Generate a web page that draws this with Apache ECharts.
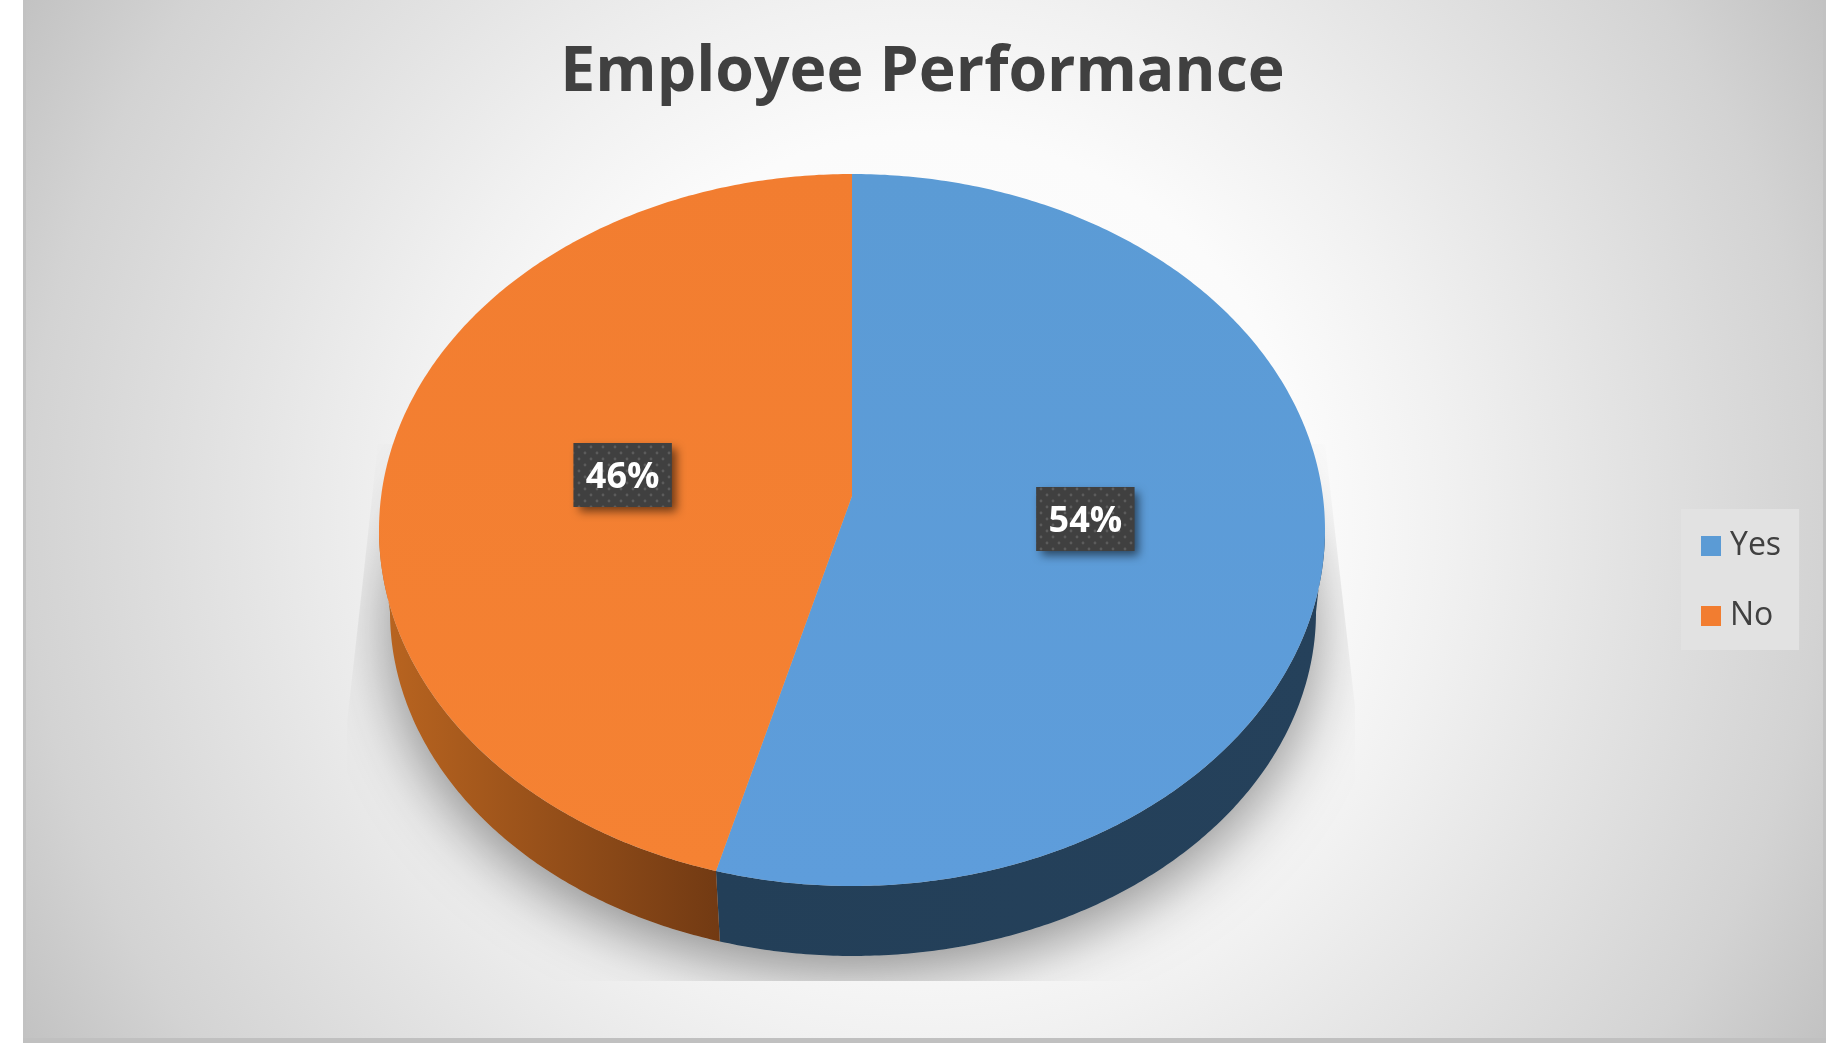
<!DOCTYPE html>
<html>
<head>
<meta charset="utf-8">
<style>html,body{margin:0;padding:0;background:#fff}#c{width:1832px;height:1043px}</style>
<script src="https://cdn.jsdelivr.net/npm/echarts@6/dist/echarts.min.js"></script>
</head>
<body>
<div id="c"></div>
<script>
const titleText = 'Employee Performance';
const categories = ['Yes', 'No'];
const values = [54, 46];

const topColors = [['#5B9BD5', '#5E9DDB'], ['#F27D30', '#F58233']];
const wallColors = [['#233F58', '#25415B'], ['#BA6520', '#723A13']];

const FONT = '"Open Sans", sans-serif';
const geo = { cx: 852, cy: 530, rx: 473, ry: 356, lowCx: 853, lowCy: 612, lowRx: 463, lowRy: 344, apexY: 496, skew: 0.86, labelR: 0.493, labelDx: 2, labelDy: 1 };
const total = values.reduce((a, b) => a + b, 0);

// value angle (clockwise from 12 o'clock) -> parameter on the tilted rim ellipse
function rimParam(deg) {
  const h = deg * Math.PI / 360;
  return 2 * Math.atan2(geo.skew * Math.sin(h), Math.cos(h));
}
function arc(t0, t1, low) {
  const pts = [], n = Math.max(2, Math.ceil(Math.abs(t1 - t0) / 0.01));
  const rx = low ? geo.lowRx : geo.rx, ry = low ? geo.lowRy : geo.ry;
  const cx = low ? geo.lowCx : geo.cx, cy = low ? geo.lowCy : geo.cy;
  for (let i = 0; i <= n; i++) {
    const t = t0 + (t1 - t0) * i / n;
    pts.push([cx + rx * Math.sin(t), cy - ry * Math.cos(t)]);
  }
  return pts;
}
function linear(stops, horizontal) {
  return {
    type: 'linear', x: 0, y: 0, x2: horizontal ? 1 : 0, y2: horizontal ? 0 : 1,
    colorStops: [{ offset: 0, color: stops[0] }, { offset: 1, color: stops[1] }]
  };
}
function dotPattern() {
  const c = document.createElement('canvas');
  c.width = 12; c.height = 12;
  const g = c.getContext('2d');
  g.fillStyle = '#404040'; g.fillRect(0, 0, 12, 12);
  g.fillStyle = '#5c5c5c';
  [[3, 3], [9, 9]].forEach(p => { g.beginPath(); g.arc(p[0], p[1], 1.4, 0, 7); g.fill(); });
  return { image: c, repeat: 'repeat' };
}
const pattern = dotPattern();

function renderSlice(idx) {
  return function (params, api) {
    const v = api.value(0);
    const before = values.slice(0, idx).reduce((a, b) => a + b, 0);
    const a0 = before / total * 360, a1 = (before + v) / total * 360;
    const t0 = rimParam(a0), t1 = rimParam(a1);
    const apex = [geo.cx, geo.apexY];
    const children = [];

    const w0 = Math.max(t0, Math.PI / 2), w1 = Math.min(t1, Math.PI * 1.5);
    if (w1 > w0) {
      const wall = arc(w0, w1, false).concat(arc(w1, w0, true));
      children.push({ type: 'polygon', shape: { points: wall }, style: { fill: linear(wallColors[idx], true) } });
    }
    children.push({
      type: 'polygon',
      shape: { points: [apex].concat(arc(t0, t1, false)) },
      style: { fill: linear(topColors[idx], false) }
    });

    const mid = (a0 + a1) / 2 * Math.PI / 180;
    const lx = apex[0] + geo.labelDx + geo.labelR * geo.rx * Math.sin(mid);
    const ly = apex[1] + geo.labelDy - geo.labelR * geo.ry * Math.cos(mid);
    const bw = 98, bh = 64;
    children.push({
      type: 'rect',
      shape: { x: lx - bw / 2, y: ly - bh / 2, width: bw, height: bh },
      style: { fill: '#404040', shadowBlur: 9, shadowOffsetX: 5, shadowOffsetY: 5, shadowColor: 'rgba(0,0,0,0.55)' }
    });
    children.push({
      type: 'rect',
      shape: { x: lx - bw / 2, y: ly - bh / 2, width: bw, height: bh },
      style: { fill: pattern }
    });
    children.push({
      type: 'text',
      style: {
        x: lx, y: ly + 3, text: v + '%', fill: '#fff', align: 'center', verticalAlign: 'middle',
        font: 'bold 36px ' + FONT
      }
    });
    return { type: 'group', children };
  };
}

function renderShadow() {
  const clip = [[378, 444], [1325, 444], [1355, 707], [1355, 981], [347, 981], [347, 724]];
  return {
    type: 'group',
    children: [{
      type: 'ellipse',
      shape: { cx: geo.lowCx, cy: geo.lowCy, rx: geo.lowRx, ry: geo.lowRy },
      clipPath: { type: 'polygon', shape: { points: clip } },
      style: { fill: '#bdbdbd', shadowBlur: 60, shadowOffsetY: 18, shadowColor: 'rgba(0,0,0,0.42)' }
    }]
  };
}

const option = {
  animation: false,
  graphic: [{
    type: 'rect', z: -10, silent: true,
    shape: { x: 24.5, y: -3, width: 1800, height: 1044 },
    style: {
      fill: {
        type: 'radial', x: 0.5, y: 0.5, r: 1.02,
        colorStops: [
          { offset: 0, color: '#ffffff' }, { offset: 0.36, color: '#fbfbfb' },
          { offset: 0.49, color: '#f1f1f1' }, { offset: 0.64, color: '#e4e4e4' },
          { offset: 0.84, color: '#d3d3d3' }, { offset: 1, color: '#bfbfbf' }
        ]
      },
      stroke: '#c2c2c2', lineWidth: 3
    }
  }, {
    type: 'rect', z: -9, silent: true,
    shape: { x: 23, y: 1038, width: 1803, height: 5 },
    style: { fill: '#c0c0c0' }
  }],
  title: {
    text: titleText, left: 917.5, top: 37, textAlign: 'center',
    textStyle: { fontFamily: FONT, fontWeight: 'bold', fontSize: 62.5, color: '#404040' }
  },
  legend: {
    data: categories, orient: 'vertical', left: 1681, top: 509,
    padding: [21, 18, 18, 20], itemWidth: 20, itemHeight: 20, itemGap: 38, icon: 'rect',
    backgroundColor: '#e2e2e2',
    textStyle: { fontFamily: FONT, fontSize: 32, color: '#404040', padding: [0, 0, 0, 4] }
  },
  series: [
    { type: 'custom', name: 'pieShadow', coordinateSystem: 'none', silent: true, z: 1, data: [total], renderItem: renderShadow }
  ].concat(categories.map((name, i) => ({
    type: 'custom', name, coordinateSystem: 'none', z: 2,
    itemStyle: { color: topColors[i][0] },
    data: [values[i]], renderItem: renderSlice(i)
  })))
};
const chart = echarts.init(document.getElementById('c'));
chart.setOption(option);
</script>
</body>
</html>
